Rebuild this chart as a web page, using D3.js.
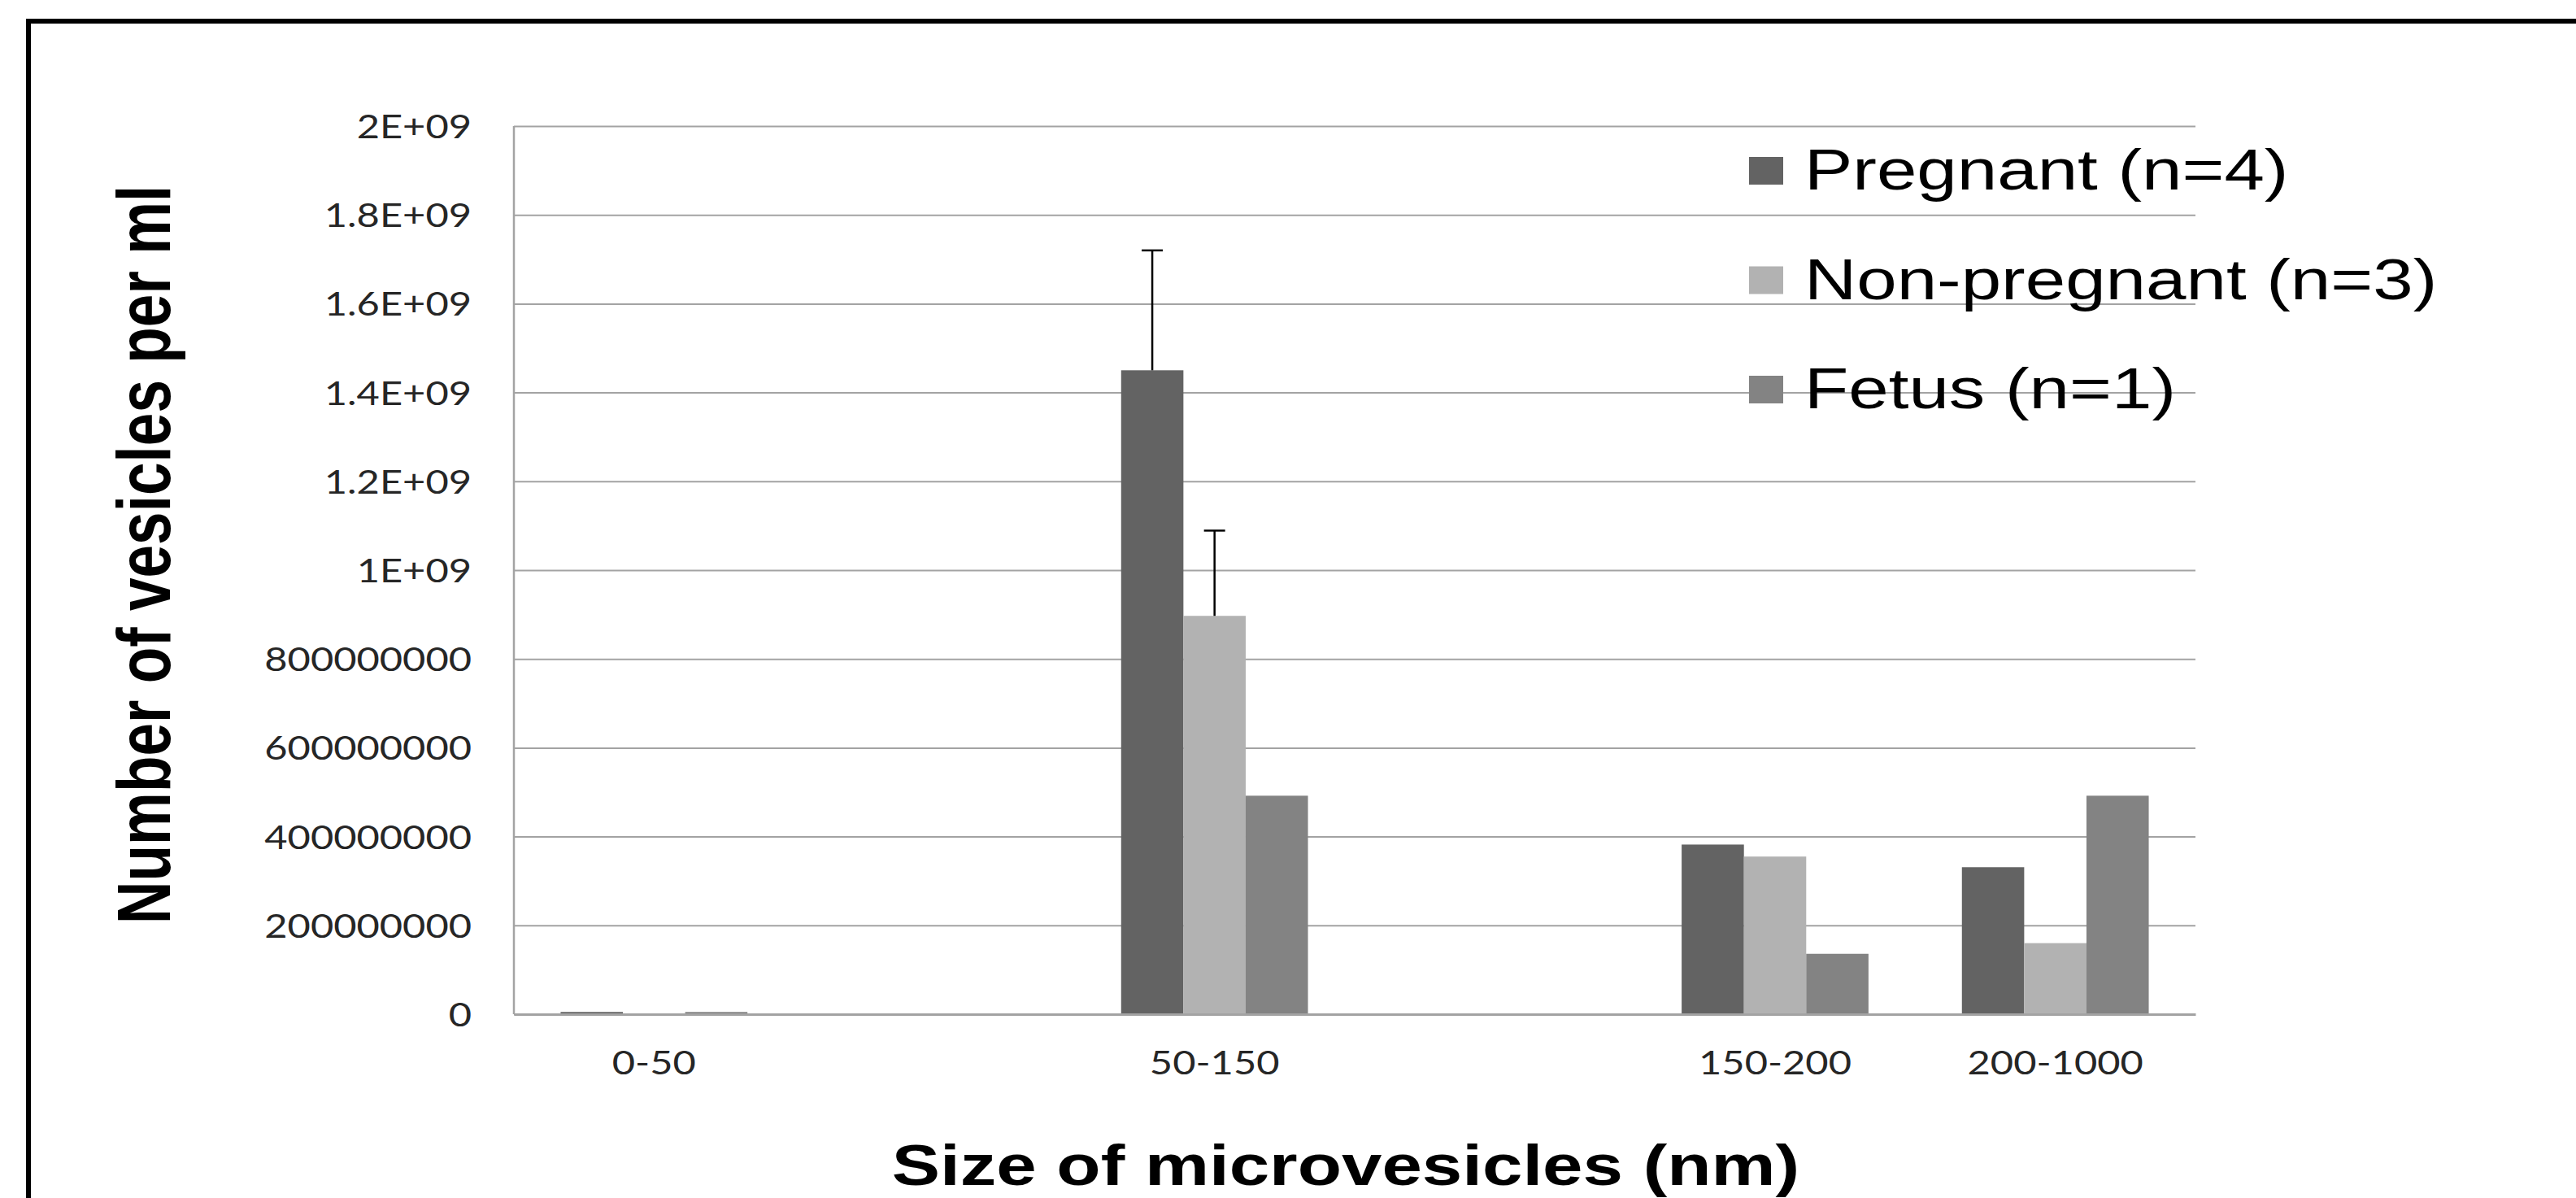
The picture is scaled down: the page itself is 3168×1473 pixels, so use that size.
<!DOCTYPE html>
<html>
<head>
<meta charset="utf-8">
<script src="https://d3js.org/d3.v7.min.js"></script>
<style>
  body { margin: 0; background: #fff; }
  .tickText { font-family: Lato, "Open Sans", sans-serif; font-size: 40px; fill: #262626; }
  .aText { font-family: "Liberation Sans", Arial, sans-serif; font-weight: bold; fill: #000; }
  .legendText { font-family: "Liberation Sans", Arial, sans-serif; font-size: 70px; fill: #000; }
</style>
</head>
<body>
<div id="chart"></div>
<script>
// Chart values
const categories = ["0-50", "", "50-150", "", "150-200", "200-1000"];
const seriesNames = ["Pregnant (n=4)", "Non-pregnant (n=3)", "Fetus (n=1)"];
const pregnant = [5e6, null, 1.45e9, null, 3.82e8, 3.31e8];
const nonPregnant = [null, null, 8.97e8, null, 3.55e8, 1.6e8];
const fetus = [5e6, null, 4.92e8, null, 1.36e8, 4.92e8];
const pregnantErr = [null, null, 2.7e8, null, null, null];
const nonPregnantErr = [null, null, 1.92e8, null, null, null];
const fetusErr = [null, null, null, null, null, null];
const yTickValues = [0, 2e8, 4e8, 6e8, 8e8, 1e9, 1.2e9, 1.4e9, 1.6e9, 1.8e9, 2e9];
const yTickLabels = ["0", "200000000", "400000000", "600000000", "800000000",
    "1E+09", "1.2E+09", "1.4E+09", "1.6E+09", "1.8E+09", "2E+09"];

const seriesValues = [pregnant, nonPregnant, fetus];
const seriesErrors = [pregnantErr, nonPregnantErr, fetusErr];
const colors = ["#636363", "#b2b2b2", "#838383"];

// Define SVG area dimensions
const svgWidth = 3168;
const svgHeight = 1473;

const margin = {
    top: 155,
    right: 468,
    bottom: 226,
    left: 632
};

const width = svgWidth - margin.left - margin.right;
const height = svgHeight - margin.top - margin.bottom;

// The picture is stretched sideways, so text gets widened too
const tickStretch = 1.22;
const titleStretch = 1.27;

const svg = d3.select("#chart")
    .append("svg")
    .attr("width", svgWidth)
    .attr("height", svgHeight)
    .style("display", "block");

svg.append("rect")
    .attr("width", svgWidth)
    .attr("height", svgHeight)
    .attr("fill", "#fff");

// Frame (left and top edges only, the rest is cut off)
svg.append("path")
    .attr("d", `M35,${svgHeight} V26 H${svgWidth}`)
    .attr("fill", "none")
    .attr("stroke", "#000")
    .attr("stroke-width", 6);

const chartGroup = svg.append("g")
    .attr("transform", `translate(${margin.left}, ${margin.top})`);

// Scales
const xScale = d3.scaleBand()
    .domain(d3.range(categories.length))
    .range([0, width])
    .paddingInner(1 / 3)
    .paddingOuter(1 / 6);

const xSub = d3.scaleBand()
    .domain(d3.range(seriesNames.length))
    .range([0, xScale.bandwidth()]);

const yScale = d3.scaleLinear()
    .domain([0, 2e9])
    .range([height, 0]);

// Gridlines
chartGroup.append("g")
    .call(d3.axisLeft(yScale).tickValues(yTickValues).tickSize(-width).tickFormat(""))
    .call(g => g.select(".domain").remove())
    .selectAll("line")
    .attr("stroke", "#a3a3a3")
    .attr("stroke-width", 2);

// Y axis labels
const leftAxis = chartGroup.append("g")
    .call(d3.axisLeft(yScale)
        .tickValues(yTickValues)
        .tickSize(0)
        .tickFormat((d, i) => yTickLabels[i]));

leftAxis.select(".domain").remove();
leftAxis.selectAll("text")
    .attr("class", "tickText")
    .attr("x", -52 / tickStretch)
    .attr("dy", "0.36em")
    .attr("transform", `scale(${tickStretch},1)`)
    .attr("fill", null);

// Vertical axis line
chartGroup.append("line")
    .attr("x1", 0).attr("x2", 0)
    .attr("y1", 0).attr("y2", height)
    .attr("stroke", "#a3a3a3")
    .attr("stroke-width", 2.5);

// Bars
seriesValues.forEach((values, s) => {
    chartGroup.append("g")
        .selectAll("rect")
        .data(values.map((v, i) => ({ i, v })).filter(d => d.v !== null))
        .enter()
        .append("rect")
        .attr("x", d => xScale(d.i) + xSub(s))
        .attr("y", d => yScale(d.v))
        .attr("width", xSub.bandwidth())
        .attr("height", d => height - yScale(d.v))
        .attr("fill", colors[s]);
});

// Bottom axis
const bottomAxis = chartGroup.append("g")
    .attr("transform", `translate(0, ${height})`)
    .call(d3.axisBottom(xScale).tickSize(0).tickFormat(i => categories[i]));

bottomAxis.select(".domain")
    .attr("stroke", "#a3a3a3")
    .attr("stroke-width", 3);

bottomAxis.selectAll("text")
    .attr("class", "tickText")
    .attr("y", 74)
    .attr("dy", null)
    .attr("transform", `scale(${tickStretch},1)`)
    .attr("fill", null);

// Error bars (plus side only)
const capWidth = 26;
seriesErrors.forEach((errs, s) => {
    errs.forEach((e, i) => {
        if (e === null) return;
        const v = seriesValues[s][i];
        const cx = xScale(i) + xSub(s) + xSub.bandwidth() / 2;
        const eb = chartGroup.append("g")
            .attr("stroke", "#000")
            .attr("stroke-width", 2.5);
        eb.append("line")
            .attr("x1", cx).attr("x2", cx)
            .attr("y1", yScale(v)).attr("y2", yScale(v + e));
        eb.append("line")
            .attr("x1", cx - capWidth / 2).attr("x2", cx + capWidth / 2)
            .attr("y1", yScale(v + e)).attr("y2", yScale(v + e));
    });
});

// Legend
const legend = svg.append("g")
    .attr("transform", "translate(2151, 233)");

seriesNames.forEach((name, s) => {
    const row = legend.append("g")
        .attr("transform", `translate(0, ${s * 134.5})`);
    row.append("rect")
        .attr("x", 0)
        .attr("y", -40)
        .attr("width", 42)
        .attr("height", 34)
        .attr("fill", colors[s]);
    row.append("text")
        .attr("class", "legendText")
        .attr("transform", `translate(68, 0) scale(${titleStretch},1)`)
        .text(name);
});

// Axis titles
svg.append("text")
    .attr("class", "aText")
    .attr("transform", `translate(209, 682) scale(${titleStretch},1) rotate(-90)`)
    .attr("text-anchor", "middle")
    .attr("font-size", "73px")
    .text("Number of vesicles per ml");

svg.append("text")
    .attr("class", "aText")
    .attr("transform", `translate(1655, 1457) scale(${titleStretch},1)`)
    .attr("text-anchor", "middle")
    .attr("font-size", "70px")
    .text("Size of microvesicles (nm)");
</script>
</body>
</html>
